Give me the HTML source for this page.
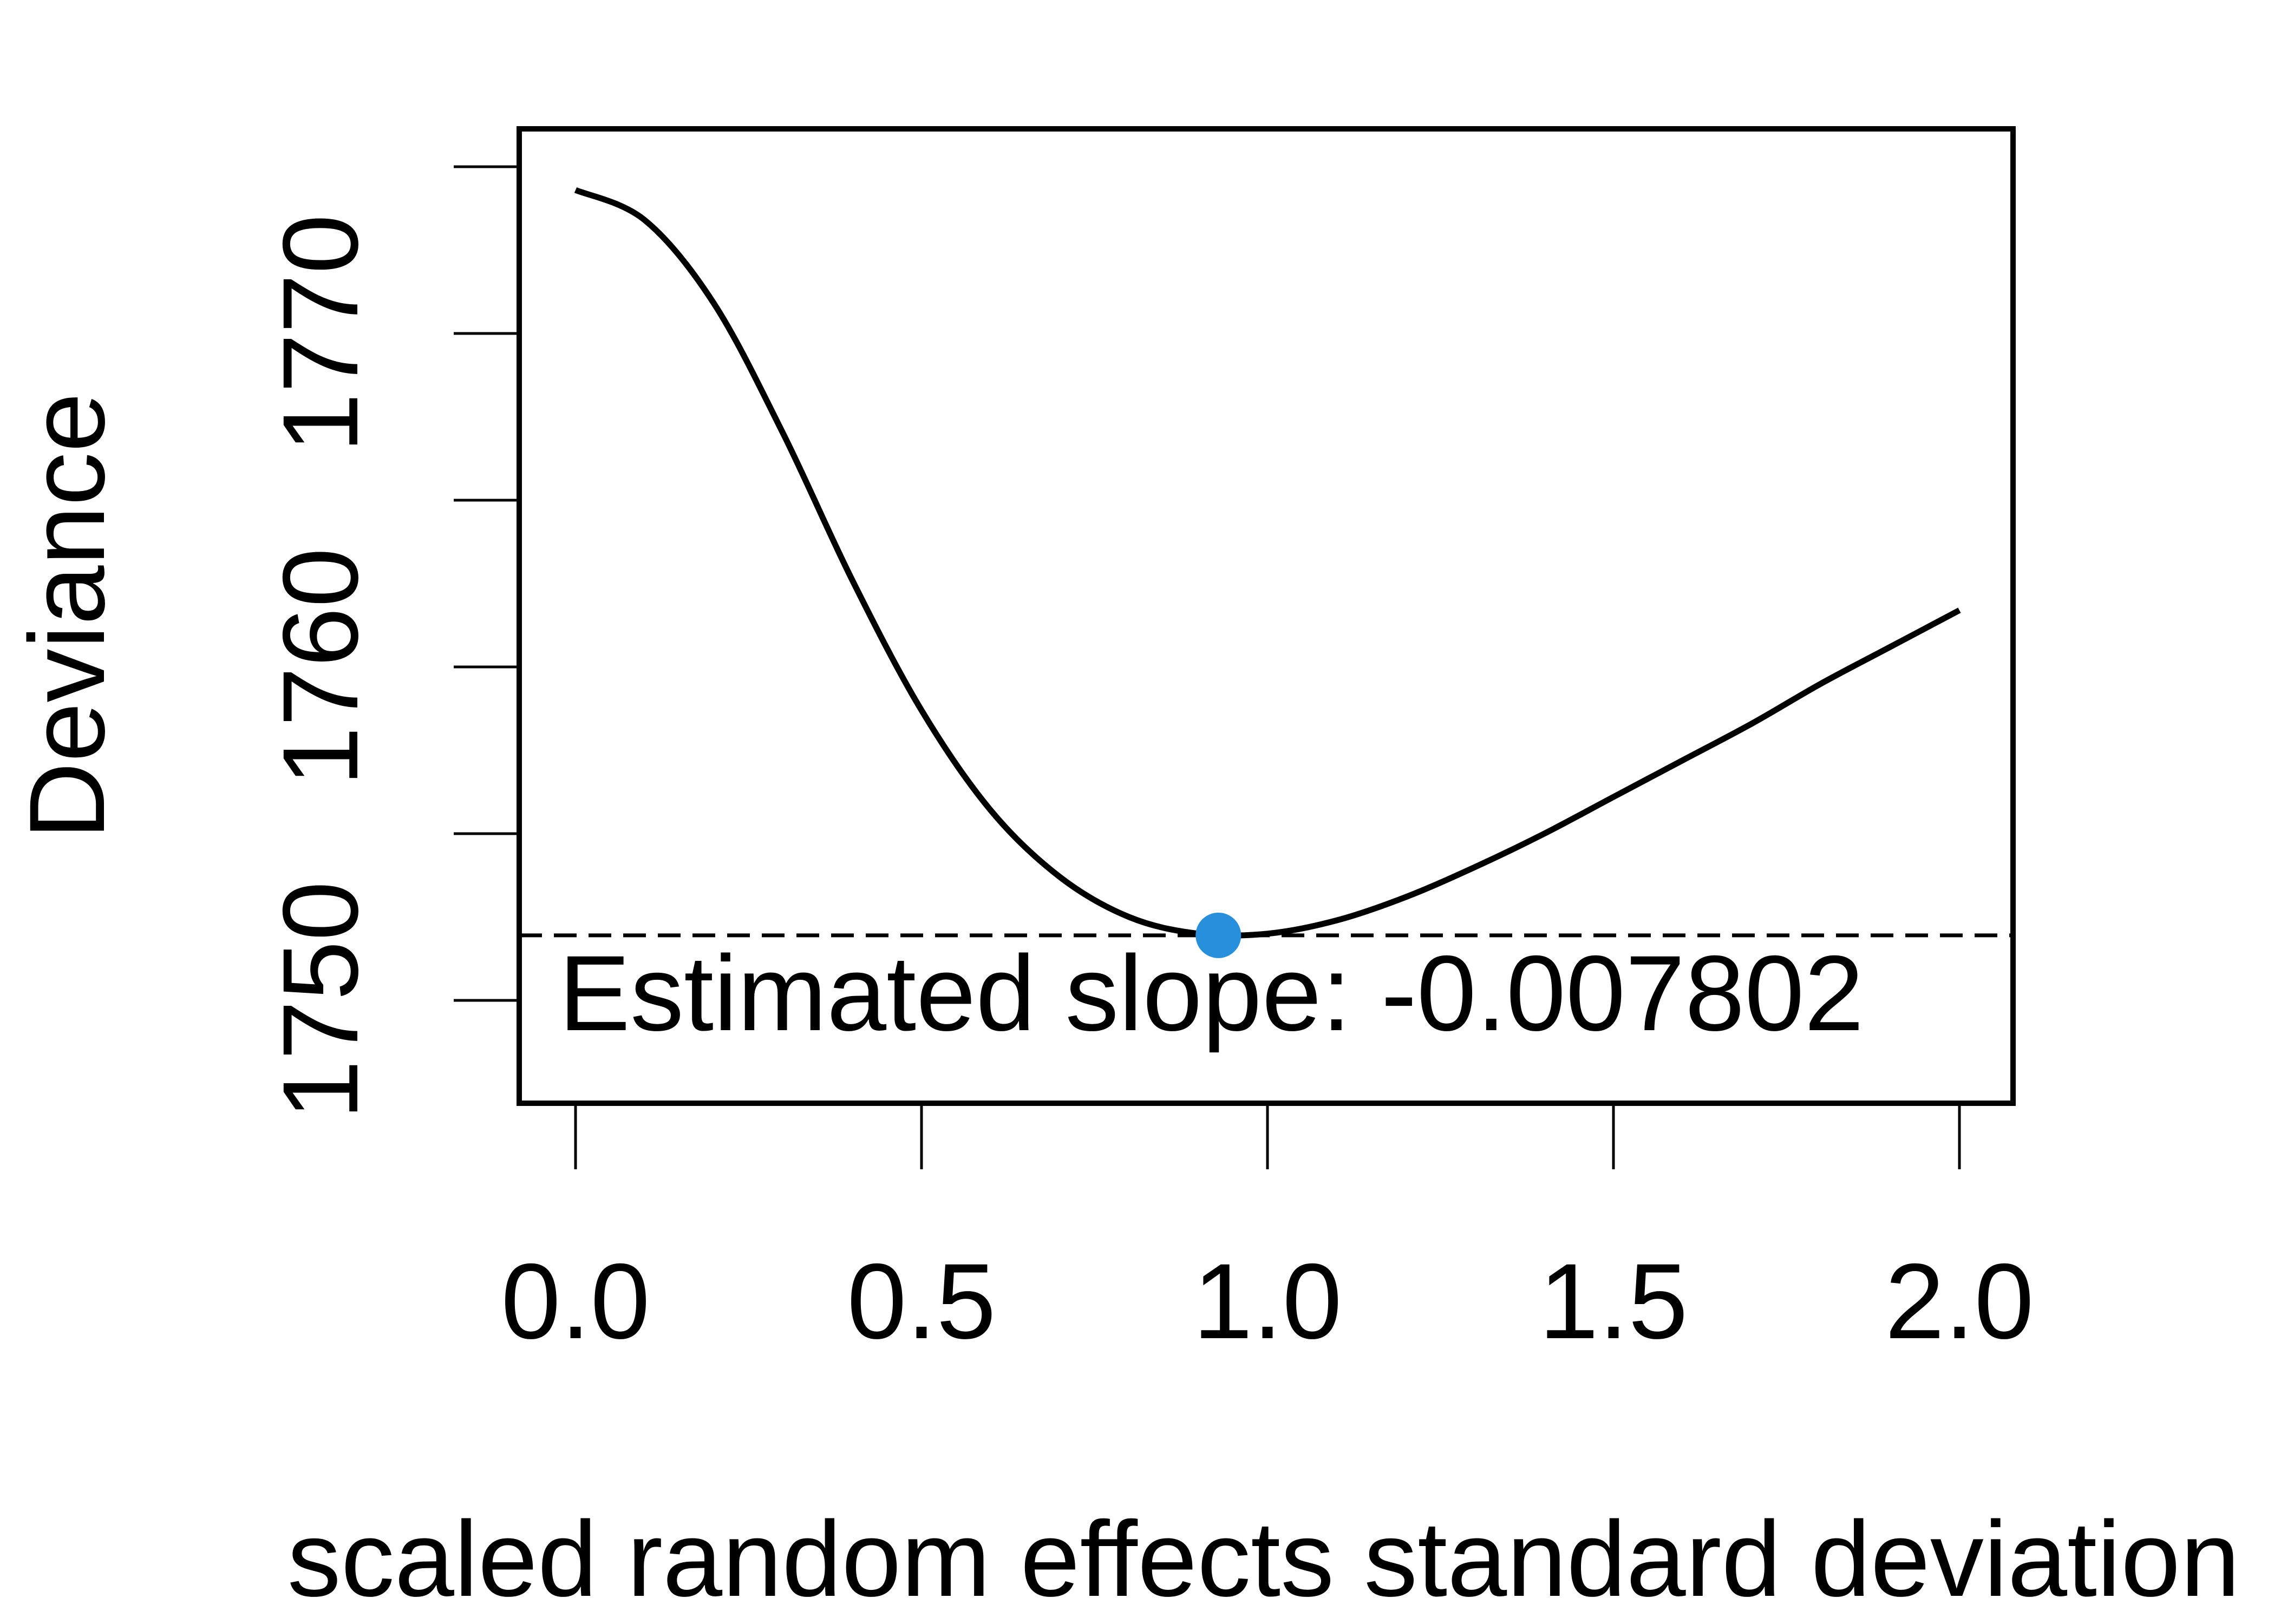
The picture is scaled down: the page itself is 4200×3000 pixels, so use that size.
<!DOCTYPE html>
<html><head><meta charset="utf-8"><style>html,body{margin:0;padding:0;background:#fff}svg{display:block}</style></head>
<body>
<svg id="chart" xmlns="http://www.w3.org/2000/svg" width="4200" height="3000" viewBox="0 0 4200 3000" font-family="'Liberation Sans', sans-serif">
<rect width="4200" height="3000" fill="#fff"/>
</svg>
<script>
const xVals = [0.0,0.1,0.2,0.3,0.4,0.5,0.6,0.7,0.8,0.9,1.0,1.1,1.2,1.3,1.4,1.5,1.6,1.7,1.8,1.9,2.0];
const devVals = [1774.3,1773.4,1770.9,1767.0,1762.6,1758.7,1755.7,1753.7,1752.5,1752.0,1752.0,1752.4,1753.1,1754.0,1755.0,1756.1,1757.2,1758.3,1759.5,1760.6,1761.7];
const xTicks = [0.0,0.5,1.0,1.5,2.0];
const xTickLabels = ["0.0","0.5","1.0","1.5","2.0"];
const yTicks = [1750,1755,1760,1765,1770,1775];
const yLabelTicks = [1750,1760,1770];
const yLabelText = ["1750","1760","1770"];
const minX = [0.929];
const minY = [1751.95];
const slopeText = ["Estimated slope: -0.007802"];

const NS = "http://www.w3.org/2000/svg";
const svg = document.getElementById('chart');
const sx = v => 1063 + (v - 0) * (3619 - 1063) / 2;
const sy = v => 1848 - (v - 1750) * 61.6;
function mk(tag, attrs, parent) {
  const e = document.createElementNS(NS, tag);
  for (const k in attrs) e.setAttribute(k, attrs[k]);
  (parent || svg).appendChild(e);
  return e;
}
const FS = 198;
let box = mk('rect', {x:959, y:238, width:2759, height:1800, fill:'none', stroke:'#000', 'stroke-width':10});


xTicks.forEach((t, i) => {
  const l = mk('line', {x1:sx(t), x2:sx(t), y1:2038, y2:2160, stroke:'#000', 'stroke-width':5});
  
  
  const tx = mk('text', {x:sx(t), y:2472, 'font-size':FS, 'text-anchor':'middle', fill:'#000'});
  tx.textContent = xTickLabels[i];
  
  
});
yTicks.forEach(t => {
  const l = mk('line', {x1:838, x2:959, y1:sy(t), y2:sy(t), stroke:'#000', 'stroke-width':5});
  
  
});
yLabelTicks.forEach((t, i) => {
  const tx = mk('text', {x:0, y:0, 'font-size':FS, 'text-anchor':'middle', fill:'#000', transform:`translate(660,${sy(t)}) rotate(-90)`});
  tx.textContent = yLabelText[i];
  
  
});
let yt = mk('text', {x:0, y:0, 'font-size':FS, 'text-anchor':'middle', fill:'#000', transform:'translate(192,1138) rotate(-90)'});
yt.textContent = 'Deviance';


let xt = mk('text', {x:2334, y:2948, 'font-size':FS, 'text-anchor':'middle', fill:'#000'});
xt.textContent = 'scaled random effects standard deviation';


let dl = mk('line', {x1:959, x2:3718, y1:sy(minY[0]), y2:sy(minY[0]), stroke:'#000', 'stroke-width':7, 'stroke-dasharray':'42 22'});


const P = xVals.map((x, i) => [sx(x), sy(devVals[i])]);
let d = 'M' + P[0][0].toFixed(1) + ',' + P[0][1].toFixed(1);
for (let i = 0; i < P.length - 1; i++) {
  const p0 = P[Math.max(0, i - 1)], p1 = P[i], p2 = P[i + 1], p3 = P[Math.min(P.length - 1, i + 2)];
  const c1 = [p1[0] + (p2[0] - p0[0]) / 6, p1[1] + (p2[1] - p0[1]) / 6];
  const c2 = [p2[0] - (p3[0] - p1[0]) / 6, p2[1] - (p3[1] - p1[1]) / 6];
  d += ` C${c1[0].toFixed(1)},${c1[1].toFixed(1)} ${c2[0].toFixed(1)},${c2[1].toFixed(1)} ${p2[0].toFixed(1)},${p2[1].toFixed(1)}`;
}
let curve = mk('path', {d:d, fill:'none', stroke:'#000', 'stroke-width':11, 'stroke-linejoin':'round'});


let pt = mk('circle', {cx:sx(minX[0]), cy:sy(minY[0]), r:42, fill:'#2790dc'});


let st = mk('text', {x:1032, y:1903, 'font-size':FS, fill:'#000'});
st.textContent = slopeText[0];


</script>
</body></html>
